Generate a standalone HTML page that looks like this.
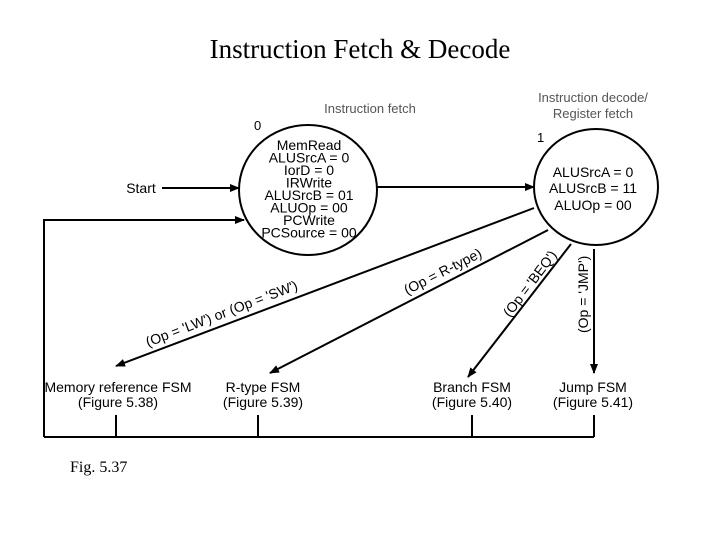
<!DOCTYPE html>
<html><head><style>
body{margin:0;background:#fff;}
svg text{font-family:"Liberation Sans",sans-serif;}
</style></head><body>
<svg width="720" height="540" viewBox="0 0 720 540" xmlns="http://www.w3.org/2000/svg">
<defs><marker id="a" markerWidth="10" markerHeight="8" refX="9" refY="4" orient="auto" markerUnits="userSpaceOnUse"><path d="M0,0 L10,4 L0,8 z" fill="#000"/></marker></defs>
<text x="360" y="58" text-anchor="middle" style="font-family:'Liberation Serif',serif" font-size="27">Instruction Fetch &amp; Decode</text>
<text x="370" y="113" text-anchor="middle" font-size="13" fill="#555">Instruction fetch</text>
<text x="593" y="102" text-anchor="middle" font-size="13" fill="#555">Instruction decode/</text>
<text x="593" y="118" text-anchor="middle" font-size="13" fill="#555">Register fetch</text>
<ellipse cx="308" cy="190" rx="69" ry="65" fill="none" stroke="#000" stroke-width="2"/>
<ellipse cx="596" cy="187" rx="62" ry="58" fill="none" stroke="#000" stroke-width="2"/>
<text x="254" y="130" font-size="13">0</text>
<text x="537" y="142" font-size="13">1</text>
<g font-size="14" text-anchor="middle">
<text x="309" y="150">MemRead</text><text x="309" y="162.5">ALUSrcA = 0</text><text x="309" y="175">IorD = 0</text><text x="309" y="187.5">IRWrite</text><text x="309" y="200">ALUSrcB = 01</text><text x="309" y="212.5">ALUOp = 00</text><text x="309" y="225">PCWrite</text><text x="309" y="237.5">PCSource = 00</text>
<text x="593" y="177">ALUSrcA = 0</text><text x="593" y="193">ALUSrcB = 11</text><text x="593" y="210">ALUOp = 00</text>
<text x="141" y="193">Start</text>
<text x="118" y="392">Memory reference FSM</text><text x="118" y="407">(Figure 5.38)</text>
<text x="263" y="392">R-type FSM</text><text x="263" y="407">(Figure 5.39)</text>
<text x="472" y="392">Branch FSM</text><text x="472" y="407">(Figure 5.40)</text>
<text x="593" y="392">Jump FSM</text><text x="593" y="407">(Figure 5.41)</text>
</g>
<g stroke="#000" stroke-width="2" fill="none">
<line x1="162" y1="188" x2="239" y2="188" marker-end="url(#a)"/>
<line x1="377" y1="187" x2="534" y2="187" marker-end="url(#a)"/>
<polyline points="44,437 44,220 244,220" marker-end="url(#a)"/>
<line x1="44" y1="437" x2="594" y2="437"/>
<line x1="116" y1="415" x2="116" y2="437"/>
<line x1="258" y1="415" x2="258" y2="437"/>
<line x1="472" y1="415" x2="472" y2="437"/>
<line x1="594" y1="415" x2="594" y2="437"/>
<line x1="534" y1="208" x2="116" y2="366" marker-end="url(#a)"/>
<line x1="548" y1="230" x2="270" y2="373" marker-end="url(#a)"/>
<line x1="571" y1="244" x2="468" y2="377" marker-end="url(#a)"/>
<line x1="594" y1="249" x2="594" y2="373" marker-end="url(#a)"/>
</g>
<g font-size="14">
<text transform="translate(148,347) rotate(-21)">(Op = 'LW') or (Op = 'SW')</text>
<text transform="translate(407,295) rotate(-27)">(Op = R-type)</text>
<text transform="translate(510,318) rotate(-53)">(Op = 'BEQ')</text>
<text transform="translate(588,333) rotate(-90)">(Op = 'JMP')</text>
</g>
<text x="70" y="472" font-size="16" style="font-family:'Liberation Serif',serif">Fig. 5.37</text>
</svg>
</body></html>
